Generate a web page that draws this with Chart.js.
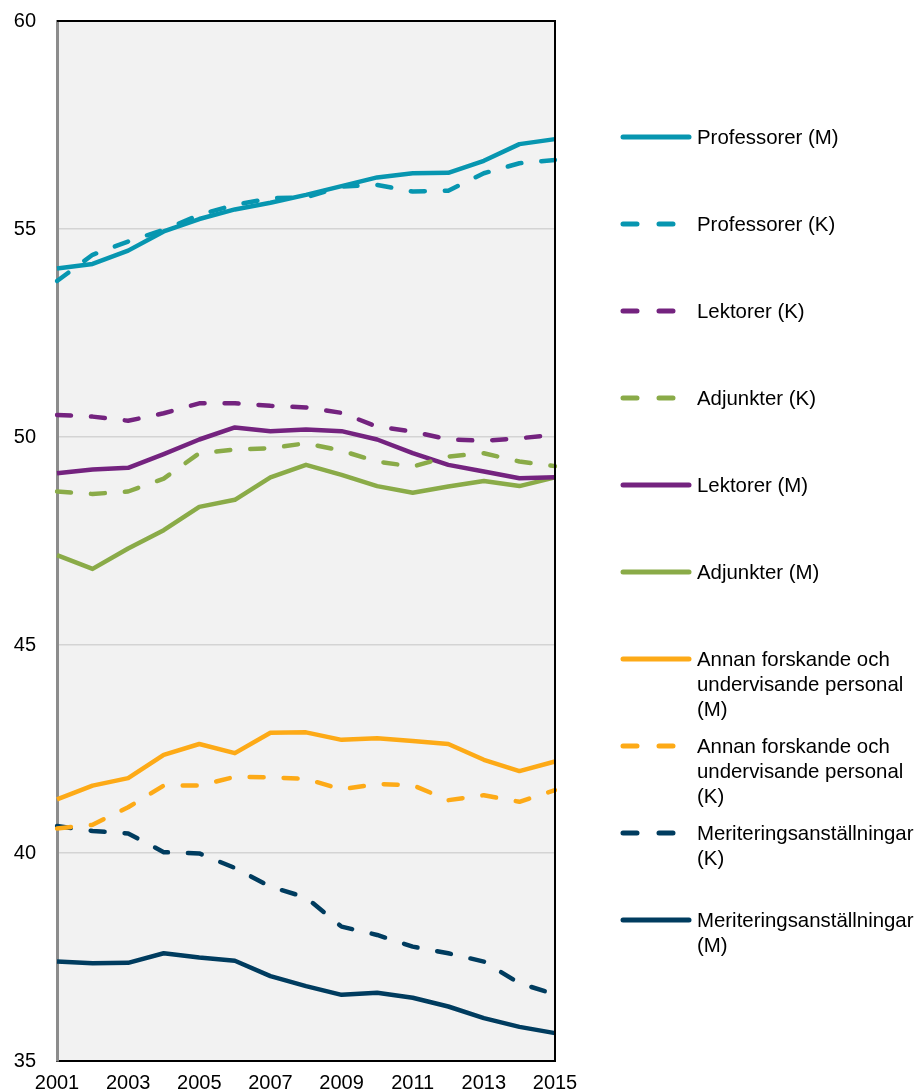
<!DOCTYPE html>
<html>
<head>
<meta charset="utf-8">
<script src="https://cdn.jsdelivr.net/npm/chart.js@4/dist/chart.umd.min.js"></script>
<style>
  body { margin: 0; background: #fff; }
  #wrap { width: 916px; height: 1091px; position: relative; }
</style>
</head>
<body>
<div id="wrap"><canvas id="chart"></canvas></div>
<script>
// data
const years = ['2001', '2002', '2003', '2004', '2005', '2006', '2007', '2008', '2009', '2010', '2011', '2012', '2013', '2014', '2015'];
const profM = [54.05, 54.16, 54.48, 54.94, 55.24, 55.47, 55.63, 55.82, 56.03, 56.24, 56.34, 56.35, 56.64, 57.04, 57.16];
const profK = [53.75, 54.38, 54.70, 54.98, 55.34, 55.58, 55.74, 55.76, 56.02, 56.06, 55.90, 55.92, 56.34, 56.58, 56.66];
const lektK = [50.53, 50.49, 50.39, 50.57, 50.81, 50.81, 50.75, 50.71, 50.58, 50.25, 50.13, 49.94, 49.91, 49.97, 50.05];
const adjK = [48.69, 48.63, 48.69, 49.00, 49.61, 49.70, 49.73, 49.85, 49.67, 49.41, 49.29, 49.53, 49.61, 49.41, 49.30];
const lektM = [49.13, 49.22, 49.26, 49.59, 49.94, 50.23, 50.14, 50.18, 50.14, 49.94, 49.61, 49.33, 49.17, 49.01, 49.03];
const adjM = [47.16, 46.83, 47.32, 47.76, 48.32, 48.49, 49.03, 49.33, 49.09, 48.82, 48.66, 48.81, 48.94, 48.82, 49.03];
const annM = [41.29, 41.62, 41.80, 42.36, 42.62, 42.40, 42.89, 42.90, 42.72, 42.76, 42.69, 42.62, 42.24, 41.97, 42.20];
const annK = [40.59, 40.68, 41.10, 41.62, 41.62, 41.83, 41.82, 41.78, 41.53, 41.66, 41.63, 41.27, 41.39, 41.23, 41.51];
const meritK = [40.65, 40.53, 40.47, 40.02, 39.99, 39.64, 39.19, 38.93, 38.23, 38.03, 37.75, 37.59, 37.39, 36.87, 36.60];
const meritM = [37.39, 37.35, 37.36, 37.59, 37.49, 37.41, 37.04, 36.80, 36.59, 36.64, 36.52, 36.31, 36.03, 35.82, 35.67];

const yTicks = [35, 40, 45, 50, 55, 60];

const teal = '#0796b0';
const purple = '#74237f';
const green = '#8aab48';
const orange = '#fdaa17';
const navy = '#003c5f';

const DASH = [14, 20];
const FONT = '"Liberation Sans", Arial, sans-serif';

function series(label, lines, data, color, dashed) {
  return {
    label: label,
    legendLines: lines,
    data: data,
    borderColor: color,
    backgroundColor: color,
    borderWidth: 4.5,
    borderDash: dashed ? DASH : [],
    borderCapStyle: dashed ? 'round' : 'butt',
    borderJoinStyle: 'round',
    pointRadius: 0,
    tension: 0,
    fill: false,
  };
}

const datasets = [
  series('Professorer (M)', ['Professorer (M)'], profM, teal, false),
  series('Professorer (K)', ['Professorer (K)'], profK, teal, true),
  series('Lektorer (K)', ['Lektorer (K)'], lektK, purple, true),
  series('Adjunkter (K)', ['Adjunkter (K)'], adjK, green, true),
  series('Lektorer (M)', ['Lektorer (M)'], lektM, purple, false),
  series('Adjunkter (M)', ['Adjunkter (M)'], adjM, green, false),
  series('Annan forskande och undervisande personal (M)', ['Annan forskande och', 'undervisande personal', '(M)'], annM, orange, false),
  series('Annan forskande och undervisande personal (K)', ['Annan forskande och', 'undervisande personal', '(K)'], annK, orange, true),
  series('Meriteringsanställningar (K)', ['Meriteringsanställningar', '(K)'], meritK, navy, true),
  series('Meriteringsanställningar (M)', ['Meriteringsanställningar', '(M)'], meritM, navy, false),
];

// grey plot background + black frame on top/right
const plotFrame = {
  id: 'plotFrame',
  beforeDraw(chart) {
    const a = chart.chartArea, ctx = chart.ctx;
    ctx.save();
    ctx.fillStyle = '#f2f2f2';
    ctx.fillRect(a.left, a.top, a.right - a.left, a.bottom - a.top);
    ctx.restore();
  },
  afterDatasetsDraw(chart) {
    const a = chart.chartArea, ctx = chart.ctx;
    ctx.save();
    ctx.strokeStyle = '#000';
    ctx.lineWidth = 2;
    ctx.beginPath();
    ctx.moveTo(a.left, a.top);
    ctx.lineTo(a.right, a.top);
    ctx.lineTo(a.right, a.bottom);
    ctx.stroke();
    ctx.restore();
  }
};

// legend on the right, one row every 87px
const sideLegend = {
  id: 'sideLegend',
  afterDraw(chart) {
    const ctx = chart.ctx;
    const x0 = 621, x1 = 691, tx = 697;
    ctx.save();
    ctx.font = '20.4px ' + FONT;
    ctx.textBaseline = 'middle';
    ctx.textAlign = 'left';
    chart.data.datasets.forEach((ds, i) => {
      const y = 137 + i * 87;
      ctx.strokeStyle = ds.borderColor;
      ctx.lineWidth = 5;
      ctx.lineCap = 'round';
      ctx.setLineDash(ds.borderDash.length ? [14, 22] : []);
      ctx.beginPath();
      ctx.moveTo(x0 + 2, y);
      ctx.lineTo(x1 - 2, y);
      ctx.stroke();
      ctx.setLineDash([]);
      ctx.fillStyle = '#000';
      ds.legendLines.forEach((t, j) => ctx.fillText(t, tx, y + 1 + j * 25));
    });
    ctx.restore();
  }
};

new Chart(document.getElementById('chart'), {
  type: 'line',
  data: { labels: years, datasets: datasets },
  plugins: [plotFrame, sideLegend],
  options: {
    responsive: true,
    maintainAspectRatio: false,
    animation: false,
    layout: { padding: { top: 21, right: 361, left: 0, bottom: 0 } },
    plugins: {
      legend: { display: false },
      tooltip: { enabled: false },
    },
    scales: {
      x: {
        offset: false,
        grid: { display: false, drawTicks: false },
        border: { color: '#000', width: 2 },
        ticks: {
          autoSkip: false,
          maxRotation: 0,
          padding: 10,
          color: '#000',
          font: { family: FONT, size: 20 },
          callback: (v, i) => (i % 2 === 0 ? years[i] : ''),
        },
        afterFit: s => { s.height = 30; s.paddingLeft = 0; s.paddingRight = 0; },
      },
      y: {
        min: 35,
        max: 60,
        afterBuildTicks: s => { s.ticks = yTicks.map(v => ({ value: v })); },
        grid: {
          drawTicks: false,
          color: c => (c.tick && (c.tick.value === 35 || c.tick.value === 60) ? 'rgba(0,0,0,0)' : '#d4d4d4'),
          lineWidth: 1.5,
        },
        border: { color: '#8c8c8c', width: 3 },
        ticks: {
          padding: 21,
          color: '#000',
          font: { family: FONT, size: 20 },
        },
        afterFit: s => { s.width = 57; s.paddingTop = 0; s.paddingBottom = 0; },
      },
    },
  },
});
</script>
</body>
</html>
